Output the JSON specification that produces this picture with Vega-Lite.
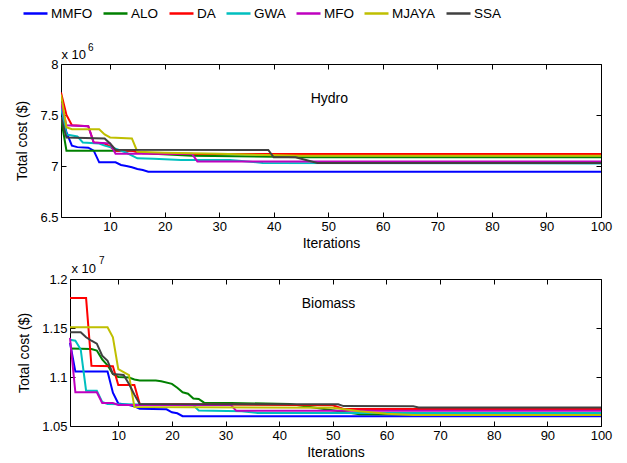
{
  "$schema": "https://vega.github.io/schema/vega-lite/v6.json",
  "padding": {"left": 15, "top": 0, "right": 5, "bottom": 5},
  "background": "white",
  "config": {
    "font": "Liberation Sans",
    "view": {"stroke": null},
    "axis": {
      "grid": false, "labelFontSize": 13, "titleFontSize": 14, "titleFontWeight": "normal",
      "labelColor": "black", "titleColor": "black", "domainColor": "black", "tickColor": "black",
      "tickSize": -5, "labelPadding": 8, "labelFlush": false, "domainWidth": 1, "tickWidth": 1,
      "labelFont": "Liberation Sans", "titleFont": "Liberation Sans"
    },
    "legend": {
      "symbolType": "stroke", "symbolSize": 576, "symbolStrokeWidth": 2.5,
      "labelFontSize": 13.5, "labelFont": "Liberation Sans", "labelColor": "black",
      "columnPadding": 5, "labelOffset": 2, "padding": 0
    }
  },
  "datasets": {
    "hydro": [
      {"algorithm":"MMFO","iteration":1,"cost":7580000},{"algorithm":"MMFO","iteration":2,"cost":7330000},{"algorithm":"MMFO","iteration":3,"cost":7200000},{"algorithm":"MMFO","iteration":4,"cost":7185000},{"algorithm":"MMFO","iteration":6,"cost":7180000},{"algorithm":"MMFO","iteration":7,"cost":7150000},{"algorithm":"MMFO","iteration":8,"cost":7036000},{"algorithm":"MMFO","iteration":11,"cost":7036000},{"algorithm":"MMFO","iteration":12,"cost":7010000},{"algorithm":"MMFO","iteration":13,"cost":7000000},{"algorithm":"MMFO","iteration":14,"cost":6987000},{"algorithm":"MMFO","iteration":15,"cost":6970000},{"algorithm":"MMFO","iteration":16,"cost":6960000},{"algorithm":"MMFO","iteration":17,"cost":6944000},{"algorithm":"MMFO","iteration":100,"cost":6944000},
      {"algorithm":"ALO","iteration":1,"cost":7470000},{"algorithm":"ALO","iteration":2,"cost":7150000},{"algorithm":"ALO","iteration":14,"cost":7150000},{"algorithm":"ALO","iteration":18,"cost":7120000},{"algorithm":"ALO","iteration":25,"cost":7100000},{"algorithm":"ALO","iteration":40,"cost":7090000},{"algorithm":"ALO","iteration":45,"cost":7085000},{"algorithm":"ALO","iteration":100,"cost":7085000},
      {"algorithm":"DA","iteration":1,"cost":7720000},{"algorithm":"DA","iteration":2,"cost":7500000},{"algorithm":"DA","iteration":3,"cost":7400000},{"algorithm":"DA","iteration":6,"cost":7390000},{"algorithm":"DA","iteration":7,"cost":7230000},{"algorithm":"DA","iteration":9,"cost":7220000},{"algorithm":"DA","iteration":10,"cost":7190000},{"algorithm":"DA","iteration":11,"cost":7150000},{"algorithm":"DA","iteration":14,"cost":7150000},{"algorithm":"DA","iteration":16,"cost":7125000},{"algorithm":"DA","iteration":20,"cost":7118000},{"algorithm":"DA","iteration":100,"cost":7118000},
      {"algorithm":"GWA","iteration":1,"cost":7580000},{"algorithm":"GWA","iteration":2,"cost":7310000},{"algorithm":"GWA","iteration":4,"cost":7290000},{"algorithm":"GWA","iteration":5,"cost":7230000},{"algorithm":"GWA","iteration":8,"cost":7220000},{"algorithm":"GWA","iteration":9,"cost":7200000},{"algorithm":"GWA","iteration":11,"cost":7170000},{"algorithm":"GWA","iteration":13,"cost":7130000},{"algorithm":"GWA","iteration":15,"cost":7075000},{"algorithm":"GWA","iteration":18,"cost":7070000},{"algorithm":"GWA","iteration":23,"cost":7060000},{"algorithm":"GWA","iteration":32,"cost":7060000},{"algorithm":"GWA","iteration":38,"cost":7030000},{"algorithm":"GWA","iteration":100,"cost":7025000},
      {"algorithm":"MFO","iteration":1,"cost":7620000},{"algorithm":"MFO","iteration":2,"cost":7400000},{"algorithm":"MFO","iteration":6,"cost":7390000},{"algorithm":"MFO","iteration":7,"cost":7230000},{"algorithm":"MFO","iteration":10,"cost":7220000},{"algorithm":"MFO","iteration":11,"cost":7120000},{"algorithm":"MFO","iteration":25,"cost":7120000},{"algorithm":"MFO","iteration":26,"cost":7045000},{"algorithm":"MFO","iteration":100,"cost":7045000},
      {"algorithm":"MJAYA","iteration":1,"cost":7700000},{"algorithm":"MJAYA","iteration":2,"cost":7380000},{"algorithm":"MJAYA","iteration":3,"cost":7360000},{"algorithm":"MJAYA","iteration":8,"cost":7360000},{"algorithm":"MJAYA","iteration":9,"cost":7310000},{"algorithm":"MJAYA","iteration":10,"cost":7280000},{"algorithm":"MJAYA","iteration":14,"cost":7270000},{"algorithm":"MJAYA","iteration":15,"cost":7140000},{"algorithm":"MJAYA","iteration":20,"cost":7130000},{"algorithm":"MJAYA","iteration":30,"cost":7120000},{"algorithm":"MJAYA","iteration":45,"cost":7100000},{"algorithm":"MJAYA","iteration":100,"cost":7100000},
      {"algorithm":"SSA","iteration":1,"cost":7480000},{"algorithm":"SSA","iteration":2,"cost":7280000},{"algorithm":"SSA","iteration":9,"cost":7270000},{"algorithm":"SSA","iteration":10,"cost":7220000},{"algorithm":"SSA","iteration":11,"cost":7160000},{"algorithm":"SSA","iteration":39,"cost":7157000},{"algorithm":"SSA","iteration":40,"cost":7085000},{"algorithm":"SSA","iteration":44,"cost":7085000},{"algorithm":"SSA","iteration":48,"cost":7030000},{"algorithm":"SSA","iteration":100,"cost":7030000}
    ],
    "biomass": [
      {"algorithm":"MMFO","iteration":1,"cost":11350000},{"algorithm":"MMFO","iteration":2,"cost":11055000},{"algorithm":"MMFO","iteration":8,"cost":11055000},{"algorithm":"MMFO","iteration":9,"cost":10840000},{"algorithm":"MMFO","iteration":10,"cost":10730000},{"algorithm":"MMFO","iteration":12,"cost":10715000},{"algorithm":"MMFO","iteration":13,"cost":10700000},{"algorithm":"MMFO","iteration":14,"cost":10675000},{"algorithm":"MMFO","iteration":19,"cost":10670000},{"algorithm":"MMFO","iteration":20,"cost":10640000},{"algorithm":"MMFO","iteration":21,"cost":10630000},{"algorithm":"MMFO","iteration":22,"cost":10600000},{"algorithm":"MMFO","iteration":100,"cost":10600000},
      {"algorithm":"ALO","iteration":1,"cost":11290000},{"algorithm":"ALO","iteration":5,"cost":11286000},{"algorithm":"ALO","iteration":6,"cost":11270000},{"algorithm":"ALO","iteration":7,"cost":11180000},{"algorithm":"ALO","iteration":8,"cost":11120000},{"algorithm":"ALO","iteration":9,"cost":11030000},{"algorithm":"ALO","iteration":10,"cost":11000000},{"algorithm":"ALO","iteration":12,"cost":10995000},{"algorithm":"ALO","iteration":13,"cost":10975000},{"algorithm":"ALO","iteration":14,"cost":10965000},{"algorithm":"ALO","iteration":17,"cost":10965000},{"algorithm":"ALO","iteration":18,"cost":10956000},{"algorithm":"ALO","iteration":20,"cost":10930000},{"algorithm":"ALO","iteration":21,"cost":10890000},{"algorithm":"ALO","iteration":22,"cost":10844000},{"algorithm":"ALO","iteration":23,"cost":10830000},{"algorithm":"ALO","iteration":24,"cost":10780000},{"algorithm":"ALO","iteration":25,"cost":10776000},{"algorithm":"ALO","iteration":26,"cost":10738000},{"algorithm":"ALO","iteration":31,"cost":10735000},{"algorithm":"ALO","iteration":42,"cost":10725000},{"algorithm":"ALO","iteration":55,"cost":10620000},{"algorithm":"ALO","iteration":100,"cost":10615000},
      {"algorithm":"DA","iteration":1,"cost":11805000},{"algorithm":"DA","iteration":4,"cost":11805000},{"algorithm":"DA","iteration":5,"cost":11115000},{"algorithm":"DA","iteration":9,"cost":11110000},{"algorithm":"DA","iteration":10,"cost":10918000},{"algorithm":"DA","iteration":13,"cost":10918000},{"algorithm":"DA","iteration":14,"cost":10724000},{"algorithm":"DA","iteration":50,"cost":10712000},{"algorithm":"DA","iteration":52,"cost":10673000},{"algorithm":"DA","iteration":100,"cost":10673000},
      {"algorithm":"GWA","iteration":1,"cost":11380000},{"algorithm":"GWA","iteration":2,"cost":11370000},{"algorithm":"GWA","iteration":3,"cost":11280000},{"algorithm":"GWA","iteration":4,"cost":10860000},{"algorithm":"GWA","iteration":6,"cost":10860000},{"algorithm":"GWA","iteration":7,"cost":10745000},{"algorithm":"GWA","iteration":8,"cost":10725000},{"algorithm":"GWA","iteration":24,"cost":10712000},{"algorithm":"GWA","iteration":25,"cost":10658000},{"algorithm":"GWA","iteration":33,"cost":10650000},{"algorithm":"GWA","iteration":36,"cost":10633000},{"algorithm":"GWA","iteration":100,"cost":10633000},
      {"algorithm":"MFO","iteration":1,"cost":11400000},{"algorithm":"MFO","iteration":2,"cost":10844000},{"algorithm":"MFO","iteration":6,"cost":10844000},{"algorithm":"MFO","iteration":7,"cost":10735000},{"algorithm":"MFO","iteration":9,"cost":10735000},{"algorithm":"MFO","iteration":10,"cost":10714000},{"algorithm":"MFO","iteration":31,"cost":10714000},{"algorithm":"MFO","iteration":32,"cost":10655000},{"algorithm":"MFO","iteration":100,"cost":10655000},
      {"algorithm":"MJAYA","iteration":1,"cost":11507000},{"algorithm":"MJAYA","iteration":8,"cost":11507000},{"algorithm":"MJAYA","iteration":9,"cost":11405000},{"algorithm":"MJAYA","iteration":10,"cost":11080000},{"algorithm":"MJAYA","iteration":11,"cost":11050000},{"algorithm":"MJAYA","iteration":12,"cost":11020000},{"algorithm":"MJAYA","iteration":13,"cost":10695000},{"algorithm":"MJAYA","iteration":50,"cost":10685000},{"algorithm":"MJAYA","iteration":55,"cost":10650000},{"algorithm":"MJAYA","iteration":60,"cost":10625000},{"algorithm":"MJAYA","iteration":65,"cost":10612000},{"algorithm":"MJAYA","iteration":100,"cost":10612000},
      {"algorithm":"SSA","iteration":1,"cost":11456000},{"algorithm":"SSA","iteration":3,"cost":11456000},{"algorithm":"SSA","iteration":4,"cost":11405000},{"algorithm":"SSA","iteration":5,"cost":11370000},{"algorithm":"SSA","iteration":6,"cost":11340000},{"algorithm":"SSA","iteration":7,"cost":11217000},{"algorithm":"SSA","iteration":8,"cost":11166000},{"algorithm":"SSA","iteration":9,"cost":11031000},{"algorithm":"SSA","iteration":11,"cost":11020000},{"algorithm":"SSA","iteration":12,"cost":10929000},{"algorithm":"SSA","iteration":13,"cost":10820000},{"algorithm":"SSA","iteration":14,"cost":10724000},{"algorithm":"SSA","iteration":51,"cost":10722000},{"algorithm":"SSA","iteration":52,"cost":10703000},{"algorithm":"SSA","iteration":65,"cost":10701000},{"algorithm":"SSA","iteration":66,"cost":10690000},{"algorithm":"SSA","iteration":100,"cost":10690000}
    ]
  },
  "concat": [
    {
      "width": 540,
      "height": 153,
      "layer": [
        {
          "data": {"name": "hydro"},
          "mark": {"type": "line", "strokeWidth": 2, "clip": true},
          "encoding": {
            "x": {"field": "iteration", "type": "quantitative", "scale": {"domain": [1, 100], "nice": false, "zero": false},
                  "axis": {"orient": "bottom", "values": [10,20,30,40,50,60,70,80,90,100], "title": "Iterations", "titlePadding": 3}},
            "y": {"field": "cost", "type": "quantitative", "scale": {"domain": [6500000, 8000000], "nice": false, "zero": false},
                  "axis": {"orient": "left", "values": [6500000,7000000,7500000,8000000], "labelExpr": "'' + (datum.value / 1000000)", "title": "Total cost ($)", "titlePadding": 10}},
            "color": {"field": "algorithm", "type": "nominal",
                      "scale": {"domain": ["MMFO","ALO","DA","GWA","MFO","MJAYA","SSA"], "range": ["#0000ff","#008000","#ff0000","#00bfbf","#bf00bf","#bfbf00","#404040"]},
                      "legend": {"orient": "none", "direction": "horizontal", "columns": 7, "legendX": -39, "legendY": -64, "title": null}}
          }
        },
        {
          "data": {"values": [{"label": "Hydro", "iteration": 50.2, "cost": 7657000}]},
          "mark": {"type": "text", "fontSize": 14, "font": "Liberation Sans", "color": "black"},
          "encoding": {
            "x": {"field": "iteration", "type": "quantitative", "scale": {"domain": [1, 100], "nice": false, "zero": false},
                  "axis": {"orient": "top", "values": [10,20,30,40,50,60,70,80,90,100], "labels": false, "title": null}},
            "y": {"field": "cost", "type": "quantitative", "scale": {"domain": [6500000, 8000000], "nice": false, "zero": false},
                  "axis": {"orient": "right", "values": [6500000,7000000,7500000,8000000], "labels": false, "title": null}},
            "text": {"field": "label"}
          }
        },
        {
          "data": {"values": [{"label": "x 10", "iteration": 1.09, "cost": 8049000}]},
          "mark": {"type": "text", "fontSize": 13, "font": "Liberation Sans", "color": "black", "align": "left", "baseline": "alphabetic"},
          "encoding": {
            "x": {"field": "iteration", "type": "quantitative", "axis": null},
            "y": {"field": "cost", "type": "quantitative", "axis": null},
            "text": {"field": "label"}
          }
        },
        {
          "data": {"values": [{"label": "6", "iteration": 5.95, "cost": 8127000}]},
          "mark": {"type": "text", "fontSize": 10, "font": "Liberation Sans", "color": "black", "align": "left", "baseline": "alphabetic"},
          "encoding": {
            "x": {"field": "iteration", "type": "quantitative", "axis": null},
            "y": {"field": "cost", "type": "quantitative", "axis": null},
            "text": {"field": "label"}
          }
        }
      ],
      "resolve": {"axis": {"x": "independent", "y": "independent"}}
    },
    {
      "width": 540,
      "height": 147,
      "layer": [
        {
          "data": {"name": "biomass"},
          "mark": {"type": "line", "strokeWidth": 2, "clip": true},
          "encoding": {
            "x": {"field": "iteration", "type": "quantitative", "scale": {"domain": [1, 100], "nice": false, "zero": false, "range": [9, 540]},
                  "axis": {"orient": "bottom", "values": [10,20,30,40,50,60,70,80,90,100], "title": "Iterations", "titlePadding": 3}},
            "y": {"field": "cost", "type": "quantitative", "scale": {"domain": [10500000, 12000000], "nice": false, "zero": false},
                  "axis": {"orient": "left", "offset": -9, "values": [10500000,11000000,11500000,12000000], "labelExpr": "'' + (datum.value / 10000000)", "title": "Total cost ($)", "titlePadding": 10}},
            "color": {"field": "algorithm", "type": "nominal",
                      "scale": {"domain": ["MMFO","ALO","DA","GWA","MFO","MJAYA","SSA"], "range": ["#0000ff","#008000","#ff0000","#00bfbf","#bf00bf","#bfbf00","#404040"]},
                      "legend": {"orient": "none", "direction": "horizontal", "columns": 7, "legendX": -39, "legendY": -64, "title": null}}
          }
        },
        {
          "data": {"values": [{"label": "Biomass", "iteration": 49.2, "cost": 11745000}]},
          "mark": {"type": "text", "fontSize": 14, "font": "Liberation Sans", "color": "black"},
          "encoding": {
            "x": {"field": "iteration", "type": "quantitative", "scale": {"domain": [1, 100], "nice": false, "zero": false, "range": [9, 540]},
                  "axis": {"orient": "top", "values": [10,20,30,40,50,60,70,80,90,100], "labels": false, "title": null}},
            "y": {"field": "cost", "type": "quantitative", "scale": {"domain": [10500000, 12000000], "nice": false, "zero": false},
                  "axis": {"orient": "right", "values": [10500000,11000000,11500000,12000000], "labels": false, "title": null}},
            "text": {"field": "label"}
          }
        },
        {
          "data": {"values": [{"label": "x 10", "iteration": 1.28, "cost": 12061000}]},
          "mark": {"type": "text", "fontSize": 13, "font": "Liberation Sans", "color": "black", "align": "left", "baseline": "alphabetic"},
          "encoding": {
            "x": {"field": "iteration", "type": "quantitative", "axis": null},
            "y": {"field": "cost", "type": "quantitative", "axis": null},
            "text": {"field": "label"}
          }
        },
        {
          "data": {"values": [{"label": "7", "iteration": 6.41, "cost": 12153000}]},
          "mark": {"type": "text", "fontSize": 10, "font": "Liberation Sans", "color": "black", "align": "left", "baseline": "alphabetic"},
          "encoding": {
            "x": {"field": "iteration", "type": "quantitative", "axis": null},
            "y": {"field": "cost", "type": "quantitative", "axis": null},
            "text": {"field": "label"}
          }
        }
      ],
      "resolve": {"axis": {"x": "independent", "y": "independent"}}
    }
  ],
  "columns": 1,
  "spacing": 6
}
